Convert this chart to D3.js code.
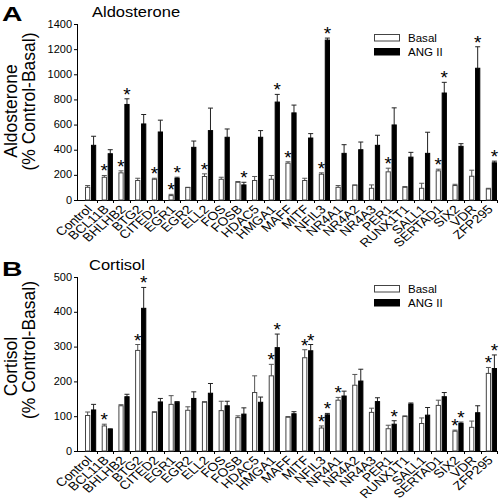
<!DOCTYPE html>
<html><head><meta charset="utf-8">
<script src="https://cdn.jsdelivr.net/npm/d3@7"></script>
<style>body{margin:0;background:#fff}svg{display:block;font-family:"Liberation Sans",Arial,sans-serif}</style>
</head><body><svg id="c" width="500" height="502"></svg>
<script>
const categories = ["Control","BCL11B","BHLHB2","BTG2","CITED2","EGR1","EGR2","ELL2","FOS","FOSB","HDAC5","HMGA1","MAFF","MITF","NFIL3","NR4A1","NR4A2","NR4A3","PER1","RUNX1T1","SALL1","SERTAD1","SIX2","VDR","ZFP295"];
const seriesNames = ["Basal","ANG II"];

const aldoBasal    = [101,181,216,155,165,35,99,187,165,141,155,165,293,155,205,101,117,93,224,101,93,232,115,189,88];
const aldoBasalErr = [14,14,16,18,8,10,2,21,16,6,32,30,11,18,11,14,3,27,29,6,40,13,10,48,5];
const aldoAng      = [435,368,760,605,541,171,419,552,499,120,499,779,693,493,1272,371,400,435,597,341,371,851,427,1048,296];
const aldoAngErr   = [72,32,45,75,94,10,50,179,66,21,53,61,62,35,16,69,61,80,136,38,168,85,21,171,13];
const aldoBasalSig = ["BCL11B","BHLHB2","CITED2","EGR1","ELL2","MAFF","NFIL3","PER1","SERTAD1"];
const aldoAngSig   = ["BHLHB2","EGR1","FOSB","HMGA1","NFIL3","SERTAD1","VDR","ZFP295"];
const aldoTicks    = [0,200,400,600,800,1000,1200,1400];

const cortBasal    = [102,72,130,289,111,134,117,140,116,96,168,216,97,268,66,146,189,111,64,99,79,131,57,68,223];
const cortBasalErr = [10,5,3,17,2,25,10,2,27,5,48,33,2,23,6,8,31,12,10,2,16,15,3,18,17];
const cortAng      = [118,62,156,410,141,140,151,166,130,106,140,297,107,288,104,158,201,142,77,135,103,156,79,110,237];
const cortAngErr   = [16,2,7,60,10,2,19,28,13,18,15,39,6,18,4,14,34,11,10,3,22,12,4,20,39];
const cortBasalSig = ["BCL11B","BTG2","HMGA1","MITF","NFIL3","NR4A1","SIX2","ZFP295"];
const cortAngSig   = ["BTG2","HMGA1","MITF","NFIL3","PER1","SIX2","ZFP295"];
const cortTicks    = [0,100,200,300,400,500];

const svg = d3.select("#c");

function htext(g, x, y, str, fs, sx, anchor, weight){
  return g.append("text").attr("transform",`translate(${x},${y}) scale(${sx},1)`)
    .attr("text-anchor",anchor||"start").attr("font-size",fs)
    .attr("font-weight",weight||"normal").attr("fill","#000").text(str);
}

function panel(o){
  const g = svg.append("g");
  const y = d3.scaleLinear().domain([0,o.max]).range([o.y0,o.y1]);
  const x0 = d3.scaleBand().domain(categories).range([80,497.5]);
  const bw = x0.bandwidth();
  const x1 = d3.scaleBand().domain(seriesNames).range([bw*0.3, bw*0.97]).paddingInner(0.12);
  const left = 78;

  const ya = d3.axisLeft(y).tickValues(o.ticks).tickSize(4).tickFormat(d3.format("d"));
  const yg = g.append("g").attr("transform",`translate(${left},0)`).call(ya);
  yg.select(".domain").attr("d",`M-0.5,${o.y0}V${o.y1}`).attr("stroke","#000");
  yg.selectAll(".tick line").attr("stroke","#000");
  yg.selectAll(".tick text").remove();
  o.ticks.forEach(t=>{
    htext(g, left-6, y(t)+3.6, String(t), 10, 1.1, "end");
  });

  g.append("line").attr("x1",left-0.5).attr("x2",497.5).attr("y1",o.y0+0.5).attr("y2",o.y0+0.5).attr("stroke","#000");
  categories.forEach((c,i)=>{
    const xx = Math.round(x0(c)+bw)+0.5;
    g.append("line").attr("x1",xx).attr("x2",xx).attr("y1",o.y0).attr("y2",o.y0+3).attr("stroke","#000");
  });

  const data = categories.map((c,i)=>({c, vals:[
    {s:"Basal", v:o.basal[i], e:o.basalErr[i], sig:o.basalSig.includes(c)},
    {s:"ANG II", v:o.ang[i], e:o.angErr[i], sig:o.angSig.includes(c)}]}));

  const grp = g.selectAll(".grp").data(data).enter().append("g")
    .attr("transform",d=>`translate(${x0(d.c)},0)`);
  grp.selectAll(".err").data(d=>d.vals).enter().append("g").each(function(d){
    const gg = d3.select(this);
    const cx = x1(d.s)+x1.bandwidth()/2;
    const col = d.s==="Basal" ? "#555" : "#222";
    gg.append("line").attr("x1",cx).attr("x2",cx).attr("y1",y(d.v)).attr("y2",y(d.v+d.e)).attr("stroke",col);
    gg.append("line").attr("x1",cx-2.5).attr("x2",cx+2.5).attr("y1",y(d.v+d.e)).attr("y2",y(d.v+d.e)).attr("stroke",col);
    if(d.sig){
      gg.append("text").attr("x",cx).attr("y",y(d.v+d.e)+2).attr("text-anchor","middle")
        .attr("font-size",19).attr("fill","#000").text("*");
    }
  });
  grp.selectAll("rect").data(d=>d.vals).enter().append("rect")
    .attr("x",d=>x1(d.s)+0.5).attr("width",x1.bandwidth()-1)
    .attr("y",d=>y(d.v)).attr("height",d=>o.y0-y(d.v))
    .attr("fill",d=>d.s==="Basal"?"#fff":"#000")
    .attr("stroke",d=>d.s==="Basal"?"#444":"#000").attr("stroke-width",1);

  categories.forEach(c=>{
    const cx = x0(c)+bw*0.63;
    g.append("text").attr("transform",`translate(${cx+2.5},${o.y0+10}) scale(1.18,1) rotate(-45)`)
      .attr("text-anchor","end").attr("font-size",11.8).attr("fill","#000").text(c);
  });

  htext(g, 2, o.letterY, o.letter, 21, 1.35, "start", "bold");
  htext(g, o.titleX, o.titleY, o.title, 14, 1.18, "start");
  g.append("text").attr("transform",`translate(17,${o.lab1Y}) rotate(-90)`).attr("text-anchor","middle")
    .attr("font-size",17.5).attr("fill","#000").text(o.title);
  g.append("text").attr("transform",`translate(35,${o.lab2Y}) rotate(-90)`).attr("text-anchor","middle")
    .attr("font-size",17.5).attr("fill","#000").text("(% Control-Basal)");

  seriesNames.forEach((s,i)=>{
    const ly = o.legY + i*14;
    g.append("rect").attr("x",374.5).attr("y",ly+0.5).attr("width",25).attr("height",6.5)
      .attr("fill",s==="Basal"?"#fff":"#000").attr("stroke",s==="Basal"?"#444":"#000");
    htext(g, 408, ly+7.5, s, 11, 1.05, "start");
  });
}

panel({max:1400, y0:200, y1:24, ticks:aldoTicks, basal:aldoBasal, basalErr:aldoBasalErr, ang:aldoAng, angErr:aldoAngErr,
  basalSig:aldoBasalSig, angSig:aldoAngSig, letter:"A", letterY:21, title:"Aldosterone", titleX:92, titleY:17,
  lab1Y:111, lab2Y:101.5, legY:34});
panel({max:500, y0:451, y1:277, ticks:cortTicks, basal:cortBasal, basalErr:cortBasalErr, ang:cortAng, angErr:cortAngErr,
  basalSig:cortBasalSig, angSig:cortAngSig, letter:"B", letterY:276, title:"Cortisol", titleX:89, titleY:270,
  lab1Y:366.5, lab2Y:350, legY:285});
</script></body></html>
